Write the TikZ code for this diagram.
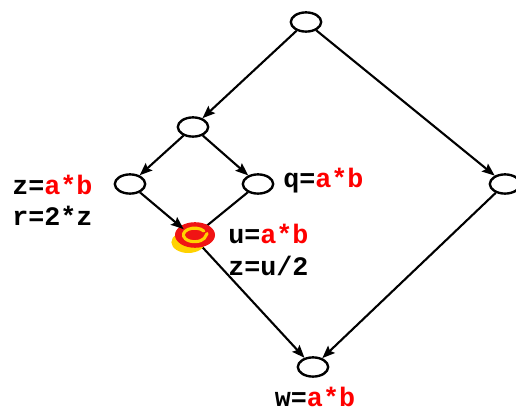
\documentclass[tikz,border=0pt]{standalone}
\usepackage{fontspec}
\setmonofont{Liberation Mono}
\usetikzlibrary{arrows.meta, shapes.geometric}
\definecolor{exprred}{HTML}{FF0000}
\definecolor{hlred}{HTML}{F01414}
\definecolor{hlyellow}{HTML}{FFD200}
\tikzset{
  blk/.style={draw, ellipse, line width=1.7pt, minimum width=0.76cm, minimum height=0.48cm, inner sep=0pt},
  flow/.style={line width=1.5pt, -{Stealth[length=9pt, width=7pt, inset=1.5pt]}},
  link/.style={line width=1.5pt},
  stmt/.style={font=\fontsize{19}{22}\selectfont\ttfamily\bfseries, anchor=west, inner sep=0pt}
}
\newcommand{\prodab}{\textcolor{exprred}{a*b}}

\begin{document}
\begin{tikzpicture}

  % ---- Frame (cuts the right block like the original) ----------------------
  \clip (0, 0) rectangle (12.9, 10.275);

  % ---- Blocks ---------------------------------------------------------------
  \node[blk] (top)   at ( 7.65, 9.725) {};
  \node[blk] (mid)   at ( 4.825, 7.1) {};
  \node[blk] (lft)   at ( 3.25, 5.675) {};
  \node[blk] (rin)   at ( 6.45, 5.675) {};
  \node[blk] (rgt)   at (12.625, 5.675) {};
  \node[ellipse, minimum width=0.76cm, minimum height=0.48cm, inner sep=0pt] (hl) at (4.825, 4.35) {};
  \node[blk] (join)  at ( 7.825, 1.1) {};

  % ---- Edges (those under the highlight first) ------------------------------
  \draw[flow] (top) -- (mid);
  \draw[flow] (top) -- (rgt);
  \draw[flow] (mid) -- (lft);
  \draw[flow] (mid) -- (rin);
  \draw[link] (rin) -- (hl.center);
  \draw[flow] (hl) -- (join);
  \draw[flow] (rgt) -- (join);

  % ---- Hand-drawn highlight on the merge block -------------------------------
  \fill[hlyellow] (hl.center) ++(-0.12, -0.13) ellipse [x radius=0.42, y radius=0.27];
  \fill[hlred] (hl.center) ++(0.05, 0.05) ellipse [x radius=0.5, y radius=0.32];
  \draw[hlyellow, line width=2.2pt, line cap=round]
    (hl.center) ++(0.27, 0.15) arc [start angle=35, end angle=330, x radius=0.28, y radius=0.17]
    -- ++(0.07, 0.12);

  \draw[flow] (lft) -- (hl);

  % ---- Statements -----------------------------------------------------------
  \node[stmt] (zdef) at (0.3, 5.65)   {z=\prodab};
  \node[stmt] (rdef) at (0.3, 4.875)  {r=2*z};
  \node[stmt] (qdef) at (7.075, 5.75) {q=\prodab};
  \node[stmt] (udef) at (5.7, 4.425)  {u=\prodab};
  \node[stmt] (zudf) at (5.7, 3.625)  {z=u/2};
  \node[stmt, anchor=center] (wdef) at (7.875, 0.36) {w=\prodab};

\end{tikzpicture}
\end{document}
